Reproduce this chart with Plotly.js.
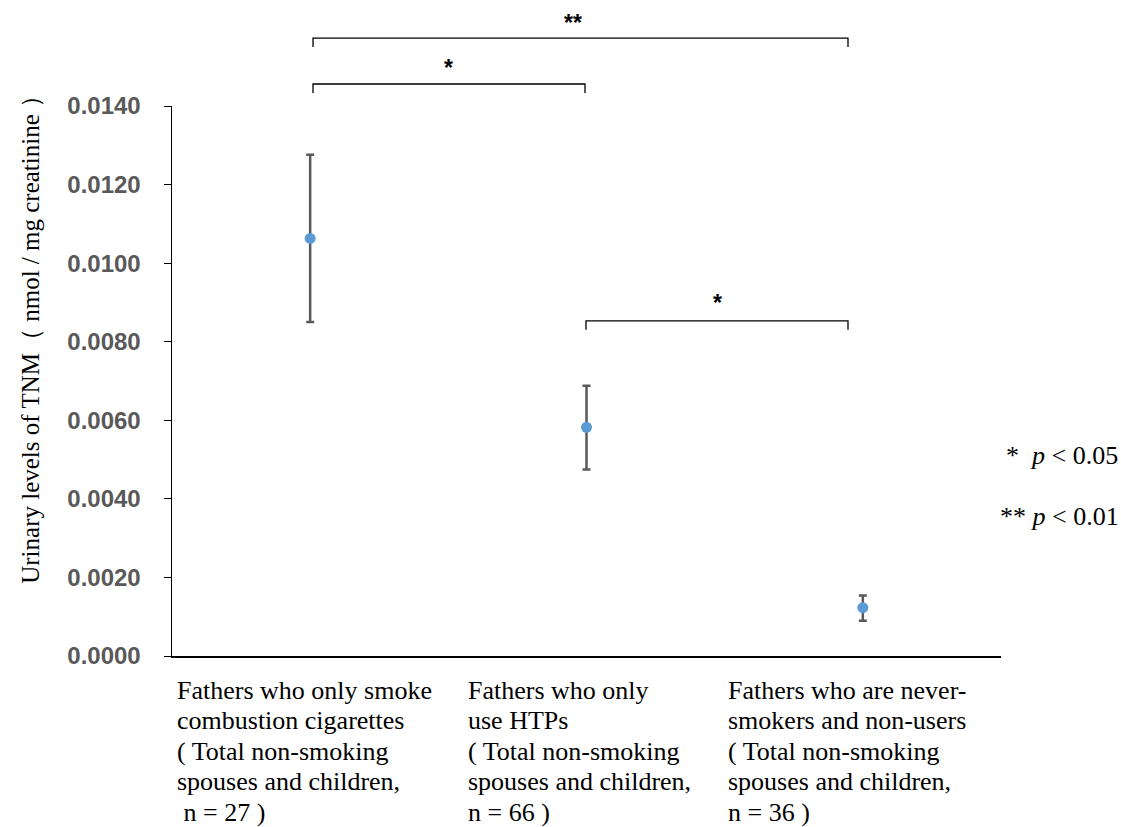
<!DOCTYPE html>
<html>
<head>
<meta charset="utf-8">
<script src="https://cdn.plot.ly/plotly-3.0.1.min.js"></script>
<style>html,body{margin:0;padding:0;background:#fff;}#chart{width:1121px;height:827px;}</style>
</head>
<body>
<div id="chart"></div>
<script>
const categories = ["A", "B", "C"];
const meanValues = [0.01063, 0.00582, 0.00123];
const upperValues = [0.01276, 0.00688, 0.00154];
const lowerValues = [0.00850, 0.00475, 0.00090];
const categoryLabels = [
  ["Fathers who only smoke", "combustion cigarettes", "( Total non-smoking", "spouses and children,", " n = 27 )"],
  ["Fathers who only", "use HTPs", "( Total non-smoking", "spouses and children,", "n = 66 )"],
  ["Fathers who are never-", "smokers and non-users", "( Total non-smoking", "spouses and children,", "n = 36 )"]
];
const yTickValues = [0, 0.002, 0.004, 0.006, 0.008, 0.010, 0.012, 0.014];
const yTitle = "Urinary levels of TNM（ nmol / mg creatinine ）";

const W = 1121, H = 827;
const L = 172, R = 1001, T = 106, B = 656.5;
const px = x => (x - L) / (R - L);
const py = y => (B - y) / (B - T);

const trace = {
  x: categories,
  y: meanValues,
  type: "scatter",
  mode: "markers",
  marker: {color: "#5B9BD5", size: 11},
  error_y: {
    type: "data",
    symmetric: false,
    array: upperValues.map((u, i) => u - meanValues[i]),
    arrayminus: meanValues.map((m, i) => m - lowerValues[i]),
    color: "#595959",
    thickness: 2.5,
    width: 4
  },
  hoverinfo: "none",
  showlegend: false
};

const serif = "Liberation Serif, Times New Roman, serif";
const annotations = [];
const labelOffsets = [-135, -121, -137];
categoryLabels.forEach((lines, ci) => {
  lines.forEach((line, li) => {
    annotations.push({
      x: categories[ci], xref: "x", y: 0, yref: "y",
      xanchor: "left", yanchor: "middle",
      xshift: labelOffsets[ci], yshift: -(34 + li * 30.5),
      text: line, showarrow: false,
      font: {family: serif, size: 26, color: "#000"}
    });
  });
});
annotations.push({
  xref: "paper", yref: "paper", x: px(31), y: py(334),
  xanchor: "center", yanchor: "middle", textangle: -90,
  text: yTitle, showarrow: false,
  font: {family: serif, size: 25, color: "#000"}
});
// significance stars
const stars = [["**", 573, 23], ["*", 448, 68], ["*", 717, 303]];
stars.forEach(s => annotations.push({
  xref: "paper", yref: "paper", x: px(s[1]), y: py(s[2]),
  xanchor: "center", yanchor: "middle", text: "<b>" + s[0] + "</b>", showarrow: false,
  font: {family: "Liberation Sans, Arial, sans-serif", size: 23, color: "#000"}
}));
annotations.push({
  xref: "paper", yref: "paper", x: px(1004), y: py(456),
  xanchor: "left", yanchor: "middle", showarrow: false,
  text: "*  <i>p</i> &lt; 0.05", font: {family: serif, size: 26, color: "#000"}
});
annotations.push({
  xref: "paper", yref: "paper", x: px(998), y: py(517),
  xanchor: "left", yanchor: "middle", showarrow: false,
  text: "** <i>p</i> &lt; 0.01", font: {family: serif, size: 26, color: "#000"}
});

const brackets = [[313, 848, 38], [313, 585, 84], [586, 848, 321]];
const shapes = [];
brackets.forEach(b => {
  shapes.push({
    type: "path", xref: "paper", yref: "paper",
    path: `M ${px(b[0])} ${py(b[2] + 9)} L ${px(b[0])} ${py(b[2])} L ${px(b[1])} ${py(b[2])} L ${px(b[1])} ${py(b[2] + 9)}`,
    line: {color: "#000", width: 1.3}
  });
});

const layout = {
  width: W, height: H,
  margin: {l: L, r: W - R, t: T, b: H - B},
  paper_bgcolor: "#fff", plot_bgcolor: "#fff",
  xaxis: {
    type: "category", range: [-0.5, 2.5],
    showticklabels: false, ticks: "", showgrid: false, zeroline: false,
    showline: true, linecolor: "#000", linewidth: 1.5, fixedrange: true
  },
  yaxis: {
    range: [0, 0.014], tickvals: yTickValues, tickformat: ".4f",
    ticks: "outside", ticklen: 7, tickcolor: "#000", tickwidth: 1,
    showline: true, linecolor: "#000", linewidth: 1.5,
    showgrid: false, zeroline: false,
    tickfont: {family: "Liberation Sans, Arial, sans-serif", size: 24, color: "#595959", weight: "bold"},
    ticklabelstandoff: 18
  },
  annotations: annotations,
  shapes: shapes
};

Plotly.newPlot("chart", [trace], layout, {staticPlot: true});
</script>
</body>
</html>
